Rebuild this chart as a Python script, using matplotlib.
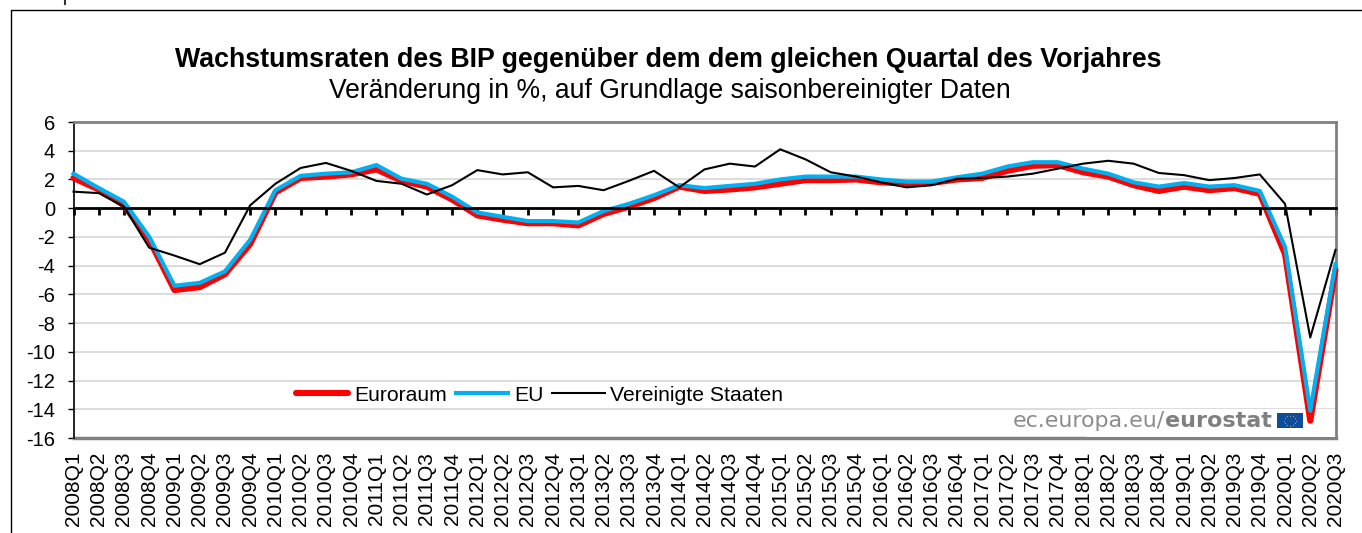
import numpy as np
import matplotlib
matplotlib.use('Agg')
import matplotlib.pyplot as plt
from matplotlib.patches import Rectangle

plt.rcParams['font.family'] = ['Liberation Sans', 'DejaVu Sans']
plt.rcParams['axes.unicode_minus'] = False

W, H = 1362, 533

years = range(2008, 2021)
quarters = [f"{y}Q{q}" for y in years for q in (1, 2, 3, 4)][:51]

euroraum = [2.1, 1.3, 0.2, -2.2, -5.7, -5.5, -4.6, -2.5, 1.1, 2.1, 2.2, 2.35, 2.7,
            1.9, 1.5, 0.6, -0.5, -0.8, -1.05, -1.05, -1.2, -0.4, 0.1, 0.7, 1.5, 1.2,
            1.3, 1.45, 1.7, 1.95, 1.95, 2.0, 1.8, 1.7, 1.75, 2.0, 2.1, 2.6, 2.95, 3.0,
            2.5, 2.2, 1.6, 1.2, 1.5, 1.25, 1.4, 1.0, -3.2, -14.8, -4.3]
eu = [2.4, 1.4, 0.45, -2.0, -5.4, -5.2, -4.4, -2.2, 1.25, 2.25, 2.4, 2.5, 3.0,
      2.05, 1.7, 0.8, -0.3, -0.6, -0.9, -0.9, -1.0, -0.2, 0.3, 0.9, 1.6, 1.4,
      1.55, 1.7, 2.0, 2.2, 2.2, 2.2, 2.0, 1.85, 1.85, 2.15, 2.4, 2.9, 3.2, 3.2,
      2.75, 2.4, 1.8, 1.5, 1.75, 1.5, 1.6, 1.2, -2.7, -14.1, -3.9]
usa = [1.15, 1.05, 0.1, -2.75, -3.3, -3.9, -3.1, 0.2, 1.7, 2.8, 3.15, 2.6, 1.9,
       1.7, 0.95, 1.6, 2.65, 2.35, 2.5, 1.45, 1.55, 1.25, 1.9, 2.6, 1.45, 2.7,
       3.1, 2.9, 4.1, 3.4, 2.5, 2.2, 1.8, 1.45, 1.6, 2.05, 2.1, 2.2, 2.4, 2.75,
       3.1, 3.3, 3.1, 2.45, 2.3, 1.95, 2.1, 2.35, 0.3, -9.0, -2.9]
y_ticks = list(range(-16, 7, 2))

fig = plt.figure(figsize=(W / 100, H / 100), dpi=100)

# outer chart frame, runs off the bottom and right of the image
fig.add_artist(plt.Line2D([11 / W, 11 / W, 1],
                          [0, 1 - 9.5 / H, 1 - 9.5 / H],
                          color='black', lw=1))
# stem of a cut off letter above the frame
fig.add_artist(plt.Line2D([65 / W, 65 / W], [1 - 3.5 / H, 1], color='#333333', lw=1.5))

ax = fig.add_axes([73.5 / W, 1 - 438 / H, (1335.5 - 73.5) / W, (438 - 122) / H])
x = np.arange(len(quarters))
ax.set_xlim(0, len(quarters) - 1)
ax.set_ylim(-16, 6)

ax.plot(x, euroraum, color='#ff0000', lw=4.4, label='Euroraum', zorder=3,
        solid_capstyle='round', clip_on=False)
ax.plot(x, eu, color='#00b0f0', lw=3, label='EU', zorder=4, clip_on=False)
ax.plot(x, usa, color='black', lw=1.5, label='Vereinigte Staaten', zorder=5, clip_on=False)

ax.set_yticks(y_ticks)
ax.grid(axis='y', color='#d2d2d2', lw=1.1)
ax.set_axisbelow(True)
ax.tick_params(axis='y', labelsize=14.5, length=4.3, width=1, pad=9, color='black')

# x axis crosses at zero, ticks hang below the zero line
ax.spines['bottom'].set_position(('data', 0))
ax.spines['bottom'].set_linewidth(2)
ax.spines['bottom'].set_zorder(6)
ax.spines['left'].set_linewidth(1.2)
ax.spines['top'].set_color('#808080')
ax.spines['top'].set_linewidth(2)
ax.spines['right'].set_color('#808080')
ax.spines['right'].set_linewidth(2)
ax.set_xticks(x)
ax.set_xticklabels([])
ax.tick_params(axis='x', direction='out', length=5, width=2, color='black')
ax.plot([0, 1], [0, 0], transform=ax.transAxes, color='#808080', lw=2.5,
        clip_on=False, zorder=2)

# quarter labels sit below the plot, not next to the zero axis
for i, q in enumerate(quarters):
    ax.annotate(q, (i, -16), xytext=(0, -10), textcoords='offset points',
                rotation=90, ha='center', va='top', fontsize=15, color='black')

fig.text(668.5 / W, 1 - 60 / H, 'Wachstumsraten des BIP gegenüber dem dem gleichen Quartal des Vorjahres',
         ha='center', va='center', fontsize=19.3, fontweight='bold')
fig.text(669.5 / W, 1 - 91 / H, 'Veränderung in %, auf Grundlage saisonbereinigter Daten',
         ha='center', va='center', fontsize=19.1)

leg = ax.legend(loc='lower left', bbox_to_anchor=(222.5 / 1262, 0.105), ncol=3, frameon=False,
                fontsize=15.2, handlelength=2.47, handletextpad=0.28, columnspacing=0.43,
                borderaxespad=0, borderpad=0)

# eurostat logo, covers the grid behind it
ax.add_patch(Rectangle((1013 / 1262, 0.003), 290 / 1262, 0.088, transform=ax.transAxes,
                       facecolor='white', edgecolor='none', zorder=2.5))
lt = fig.text(1013 / W, 1 - 421 / H, 'ec.europa.eu/', ha='left', va='center', fontsize=15.9,
              family='DejaVu Sans', color='#8c8c8c', zorder=10)
fig.canvas.draw()
bb = lt.get_window_extent()
fig.text(bb.x1 / W, 1 - 421 / H, 'eurostat', ha='left', va='center', fontsize=16,
         family='DejaVu Sans', fontweight='bold', color='#808080', zorder=10)
flag = fig.add_axes([1277 / W, 1 - 428 / H, 26 / W, 15 / H])
flag.set_facecolor('#0f4c9c')
flag.set_xticks([])
flag.set_yticks([])
for s in flag.spines.values():
    s.set_visible(False)
angle = np.arange(12) * np.pi / 6
flag.scatter(np.cos(angle), np.sin(angle), s=1.5, color='#ffd617', marker='*', linewidths=0)
flag.set_xlim(-2.3, 2.3)
flag.set_ylim(-1.5, 1.5)

fig.savefig('out.png', dpi=100)
